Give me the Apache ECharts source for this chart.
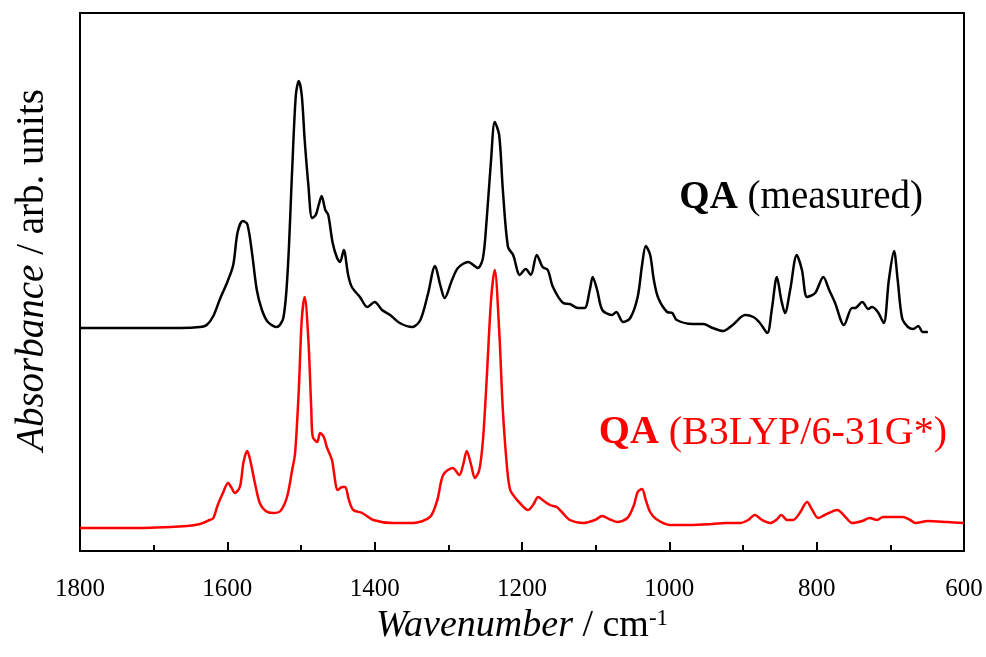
<!DOCTYPE html>
<html>

<head>
    <meta charset="utf-8">
    <title>QA IR spectrum</title>
    <script src="https://cdn.jsdelivr.net/npm/echarts@6/dist/echarts.min.js"></script>
</head>

<body style="margin:0">
    <div id="main" style="width: 986px;height:657px;"></div>
    <script type="text/javascript">
        // 读图得到的数据 (wavenumber / cm-1, absorbance in arb. units)
        var measuredWn = [1800, 1719, 1664, 1637, 1628, 1619, 1610, 1600, 1592, 1586, 1579, 1573, 1567, 1560, 1553, 1545, 1533, 1524, 1518, 1512, 1507, 1503, 1499, 1495, 1490, 1485, 1480, 1476, 1472, 1467, 1463, 1457, 1451, 1447, 1442, 1436, 1431, 1420, 1410, 1400, 1390, 1379, 1366, 1349, 1338, 1328, 1318, 1311, 1305, 1295, 1287, 1273, 1260, 1253, 1248, 1242, 1237, 1231, 1226, 1219, 1212, 1203, 1195, 1188, 1180, 1172, 1165, 1158, 1144, 1135, 1124, 1115, 1108, 1104, 1098, 1091, 1078, 1072, 1063, 1053, 1043, 1037, 1032, 1026, 1021, 1015, 1003, 996, 990, 968, 954, 941, 927, 914, 897, 886, 877, 867, 861, 854, 848, 843, 836, 827, 820, 813, 802, 791, 783, 775, 763, 752, 748, 738, 730, 725, 717, 709, 702, 695, 690, 684, 676, 669, 662, 656, 649];
        var measuredAbs = [223, 223, 223, 224, 226, 235, 252, 269, 286, 319, 330, 327, 301, 261, 241, 229, 224, 233, 281, 381, 456, 470, 456, 411, 366, 333, 336, 346, 355, 341, 336, 308, 293, 289, 301, 276, 264, 254, 244, 249, 241, 236, 228, 224, 231, 256, 285, 266, 253, 271, 283, 289, 283, 293, 331, 391, 429, 416, 361, 304, 296, 276, 282, 276, 296, 284, 281, 264, 248, 247, 243, 243, 261, 274, 261, 241, 236, 239, 229, 233, 254, 286, 305, 296, 271, 253, 239, 238, 231, 227, 227, 223, 220, 226, 236, 234, 228, 218, 241, 274, 251, 238, 261, 296, 281, 254, 258, 274, 261, 248, 226, 243, 243, 249, 242, 244, 239, 228, 271, 300, 271, 233, 224, 222, 225, 219, 219];

        var calcWn = [1800, 1728, 1655, 1637, 1624, 1619, 1613, 1606, 1599, 1594, 1590, 1583, 1578, 1573, 1569, 1562, 1556, 1548, 1538, 1528, 1519, 1512, 1508, 1503, 1499, 1495, 1490, 1486, 1484, 1478, 1474, 1469, 1465, 1458, 1450, 1444, 1440, 1435, 1429, 1417, 1402, 1375, 1348, 1325, 1315, 1307, 1294, 1285, 1280, 1275, 1269, 1264, 1258, 1253, 1248, 1242, 1237, 1231, 1226, 1220, 1216, 1210, 1203, 1192, 1185, 1178, 1172, 1162, 1153, 1146, 1135, 1117, 1101, 1091, 1082, 1071, 1057, 1048, 1043, 1037, 1032, 1026, 1018, 999, 972, 941, 924, 904, 893, 884, 874, 863, 855, 848, 840, 832, 823, 813, 806, 798, 789, 772, 761, 752, 738, 728, 718, 710, 696, 683, 673, 666, 649, 623, 600];
        var calcAbs = [23, 23, 25, 27, 31, 33, 46, 58, 68, 63, 58, 64, 89, 100, 91, 66, 48, 40, 38, 40, 54, 81, 98, 161, 231, 254, 211, 141, 114, 109, 118, 114, 104, 91, 61, 64, 64, 51, 41, 38, 31, 28, 28, 34, 51, 76, 83, 76, 86, 100, 86, 73, 81, 111, 171, 251, 281, 221, 141, 81, 61, 54, 48, 41, 46, 54, 51, 46, 44, 39, 31, 28, 31, 35, 32, 29, 33, 46, 59, 62, 51, 39, 32, 26, 26, 27, 28, 28, 31, 36, 31, 28, 31, 36, 31, 31, 38, 49, 41, 33, 36, 41, 34, 28, 30, 33, 31, 34, 34, 34, 31, 28, 30, 29, 28];

        var xTicks = [1800, 1600, 1400, 1200, 1000, 800, 600];

        function pairs(xs, ys) {
            var out = [];
            for (var i = 0; i < xs.length; i++) {
                out.push([xs[i], ys[i]]);
            }
            return out;
        }

        var serif = 'Liberation Serif';
        var myChart = echarts.init(document.getElementById('main'));
        var option = {
            animation: false,
            grid: {
                left: 80,
                right: 22,
                top: 13,
                bottom: 106,
                show: true,
                borderColor: '#000',
                borderWidth: 2
            },
            xAxis: {
                type: 'value',
                inverse: true,
                min: xTicks[xTicks.length - 1],
                max: xTicks[0],
                interval: 200,
                splitLine: { show: false },
                axisLine: { lineStyle: { color: '#000', width: 2 } },
                axisTick: { inside: true, length: 9, lineStyle: { color: '#000', width: 2 } },
                minorTick: { show: true, splitNumber: 2, length: 6, lineStyle: { color: '#000', width: 2 } },
                axisLabel: {
                    margin: 26,
                    color: '#000',
                    fontFamily: serif,
                    fontSize: 25,
                    formatter: function (v) { return String(v); }
                }
            },
            yAxis: {
                type: 'value',
                min: 0,
                max: 538,
                show: false
            },
            graphic: [
                {
                    type: 'text',
                    x: 522,
                    y: 645,
                    style: {
                        text: '{i|Wavenumber} / cm{s|-1}',
                        fill: '#000',
                        font: '38px "Liberation Serif"',
                        align: 'center',
                        verticalAlign: 'bottom',
                        rich: {
                            i: { fontStyle: 'italic', fontSize: 38, fontFamily: serif },
                            s: { fontSize: 23, fontFamily: serif, verticalAlign: 'top', padding: [0, 0, 14, 0] }
                        }
                    }
                },
                {
                    type: 'text',
                    rotation: Math.PI / 2,
                    x: 13,
                    y: 270,
                    style: {
                        text: '{i|Absorbance} / arb. units',
                        fill: '#000',
                        font: '39px "Liberation Serif"',
                        align: 'center',
                        verticalAlign: 'top',
                        rich: {
                            i: { fontStyle: 'italic', fontSize: 39, fontFamily: serif }
                        }
                    }
                },
                {
                    type: 'text',
                    x: 923,
                    y: 198,
                    style: {
                        text: '{b|QA} (measured)',
                        fill: '#000',
                        font: '39px "Liberation Serif"',
                        align: 'right',
                        verticalAlign: 'middle',
                        rich: {
                            b: { fontWeight: 'bold', fontSize: 39, fontFamily: serif }
                        }
                    }
                },
                {
                    type: 'text',
                    x: 947,
                    y: 433,
                    style: {
                        text: '{b|QA} (B3LYP/6-31G*)',
                        fill: '#ff0000',
                        font: '40px "Liberation Serif"',
                        align: 'right',
                        verticalAlign: 'middle',
                        rich: {
                            b: { fontWeight: 'bold', fontSize: 40, fontFamily: serif, color: '#ff0000' }
                        }
                    }
                }
            ],
            series: [
                {
                    name: 'QA (measured)',
                    type: 'line',
                    showSymbol: false,
                    smooth: 0.3,
                    lineStyle: { color: '#000', width: 2.5 },
                    data: pairs(measuredWn, measuredAbs)
                },
                {
                    name: 'QA (B3LYP/6-31G*)',
                    type: 'line',
                    showSymbol: false,
                    smooth: 0.3,
                    lineStyle: { color: '#ff0000', width: 2.5 },
                    data: pairs(calcWn, calcAbs)
                }
            ]
        };

        myChart.setOption(option);
    </script>
</body>

</html>
